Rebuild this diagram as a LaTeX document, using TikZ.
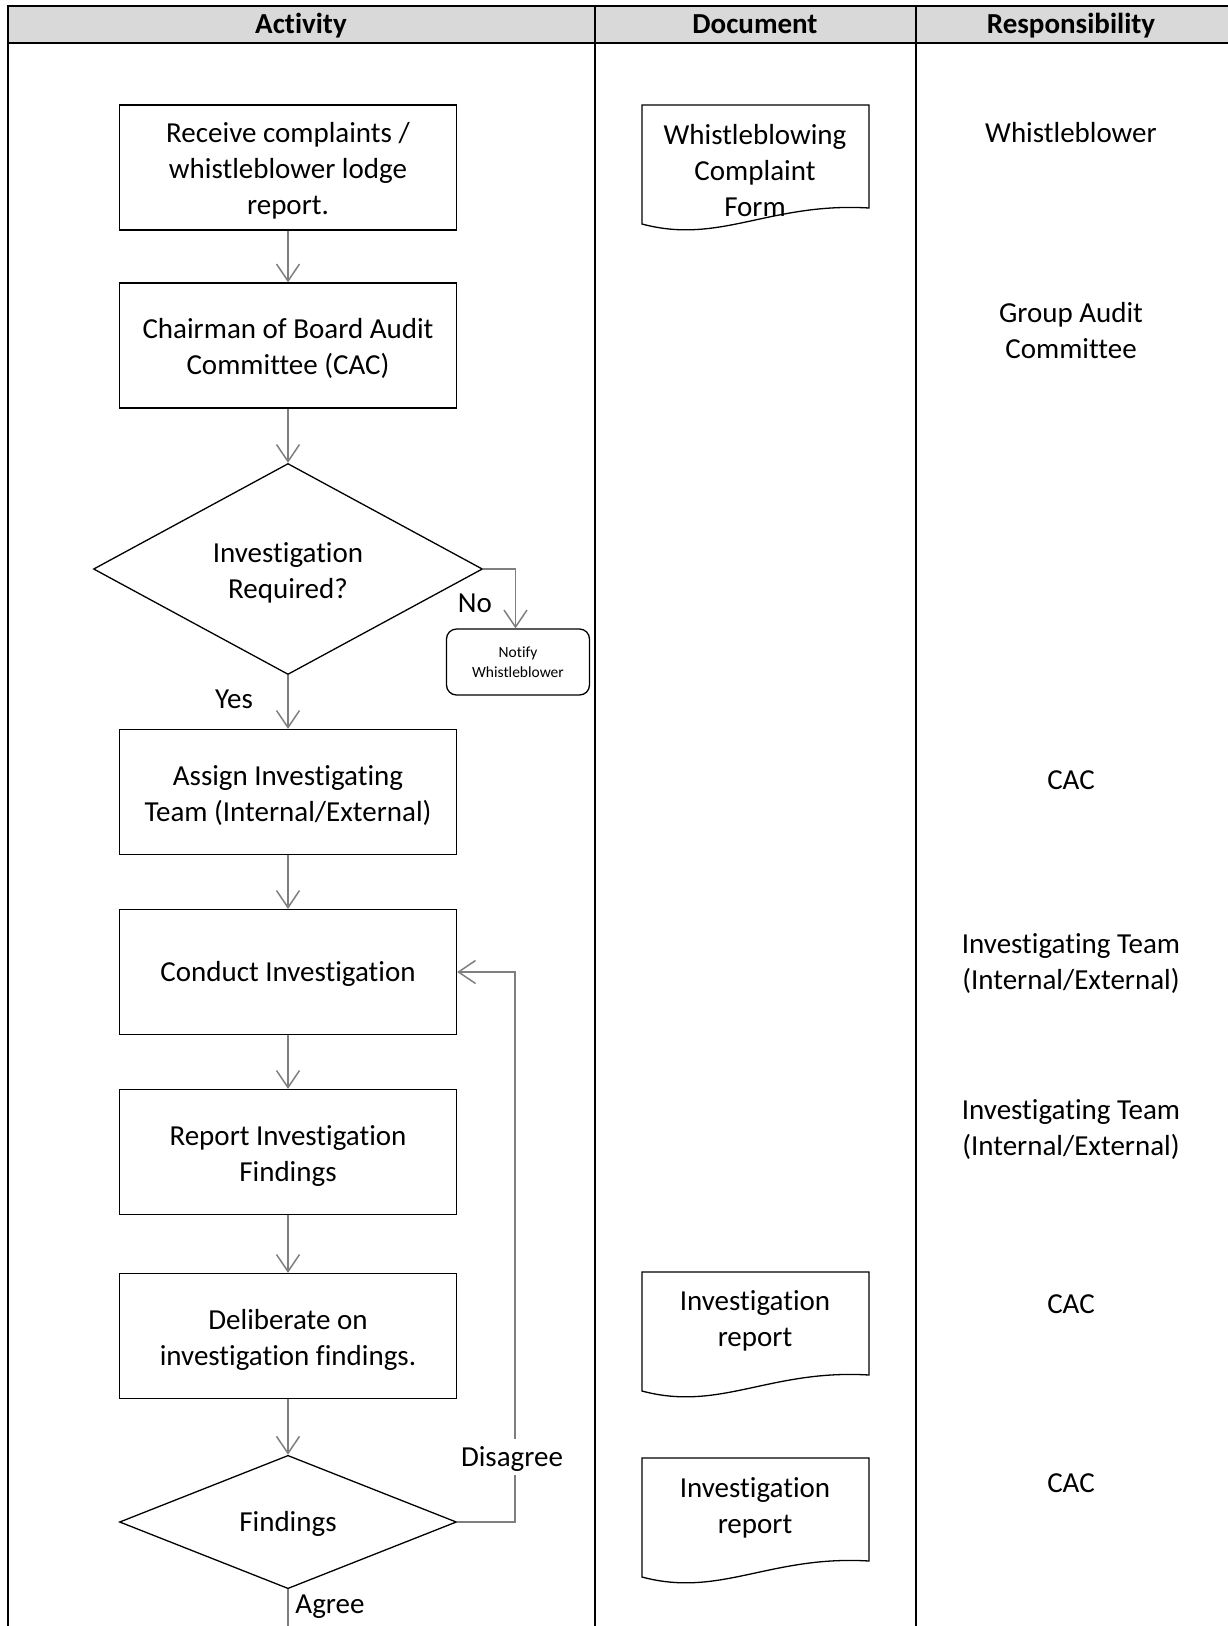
\documentclass[tikz,border=0pt]{standalone}
\usepackage{fontspec}
\setmainfont{Carlito}[Ligatures=NoCommon]
\usetikzlibrary{arrows.meta,shapes.geometric}
\definecolor{headgray}{HTML}{D9D9D9}
\definecolor{arrowgray}{HTML}{7F7F7F}
\newcommand\sv{\rule[-8.5pt]{0pt}{36pt}}
\newcommand\mydoc[1]{%
  \draw[boxline] (642,#1+119) -- (642,#1) -- (869,#1) -- (869,#1+103)
    .. controls (770,#1+97) and (720,#1+140) .. (642,#1+119) -- cycle;}
\begin{document}
\begin{tikzpicture}[x=1pt,y=-1pt,
  font=\fontsize{29}{36}\selectfont,
  boxline/.style={draw=black,line width=1.3pt},
  struts/.style={execute at begin node=\sv,execute at end node=\sv},
  proc/.style={boxline,struts,minimum width=337pt,minimum height=125pt,align=center,inner sep=0pt},
  dec/.style={boxline,struts,diamond,inner sep=0pt,align=center},
  txt/.style={struts,align=center,inner sep=0pt},
  conn/.style={draw=arrowgray,line width=1.5pt},
  arr/.style={conn,-{Straight Barb[length=17pt,width=23pt,line width=1.5pt]}},
  tbl/.style={draw=black,line width=2pt},
  lbl/.style={struts,inner sep=0pt,fill=white}
]
\useasboundingbox (0,0) rectangle (1227,1626);
% table
\fill[headgray] (8,6) rectangle (1230,42.5);
\draw[tbl] (8,1640) -- (8,6) -- (1230,6);
\draw[tbl] (8,42.5) -- (1230,42.5);
\draw[tbl] (595,6) -- (595,1640);
\draw[tbl] (916,6) -- (916,1640);
\node[txt,font=\fontsize{29}{36}\selectfont\bfseries] (h1) at (301,24) {Activity};
\node[txt,font=\fontsize{29}{36}\selectfont\bfseries] (h2) at (755,24) {Document};
\node[txt,font=\fontsize{29}{36}\selectfont\bfseries] (h3) at (1071,24) {Responsibility};
% activity column
\node[proc] (b1) at (288,167.5) {};
\node[txt] (b1t) at (288,173) {Receive complaints /\\whistleblower lodge\\report.};
\node[proc] (b2) at (288,345.5) {};
\node[txt] (b2t) at (288,351) {Chairman of Board Audit\\Committee (CAC)};
\node[dec,minimum width=389pt,minimum height=211pt] (d1) at (288,569) {};
\node[txt] (d1t) at (288,575) {Investigation\\Required?};
\node[boxline,rounded corners=10pt,minimum width=143pt,minimum height=66pt,align=center,inner sep=0pt,
      font=\fontsize{15.5}{19.5}\selectfont] (notify) at (518,662) {Notify\\Whistleblower};
\node[proc] (b3) at (288,792) {};
\node[txt] (b3t) at (288,797.5) {Assign Investigating\\Team (Internal/External)};
\node[proc] (b4) at (288,972) {Conduct Investigation};
\node[proc] (b5) at (288,1152) {};
\node[txt] (b5t) at (288,1157.5) {Report Investigation\\Findings};
\node[proc] (b6) at (288,1336) {};
\node[txt] (b6t) at (288,1341.5) {Deliberate on\\investigation findings.};
\node[dec,minimum width=337pt,minimum height=129pt] (d2) at (288,1522) {Findings};
\coordinate (loop) at (515,0);
\coordinate (bot) at (288,1640);
% connectors
\draw[arr] (b1) -- (b2);
\draw[arr] (b2) -- (d1);
\draw[arr] (d1.east) -| ([xshift=-2.5pt]notify.north);
\draw[arr] (d1) -- (b3);
\draw[arr] (b3) -- (b4);
\draw[arr] (b4) -- (b5);
\draw[arr] (b5) -- (b6);
\draw[arr] (b6) -- (d2);
\draw[arr] (d2.east) -- (d2.east -| loop) -- (b4.east -| loop) -- (b4.east);
\draw[conn] (d2.south) -- (bot);
\node[txt] (no) at (475,603) {No};
\node[txt] (yes) at (234,699) {Yes};
\node[lbl] (disagree) at (512,1457) {Disagree};
\node[txt] (agree) at (330,1604) {Agree};
% documents
\mydoc{105}
\mydoc{1272}
\mydoc{1458}
\node[txt] (doc1) at (755,174.5) {Whistleblowing\\Complaint\\Form};
\node[txt] (doc2) at (755,1322.5) {Investigation\\report};
\node[txt] (doc3) at (755,1509.5) {Investigation\\report};
% responsibility
\node[txt] (r1) at (1071,133) {Whistleblower};
\node[txt] (r2) at (1071,334.5) {Group Audit\\Committee};
\node[txt] (r3) at (1071,780) {CAC};
\node[txt] (r4) at (1071,965.5) {Investigating Team\\(Internal/External)};
\node[txt] (r5) at (1071,1132) {Investigating Team\\(Internal/External)};
\node[txt] (r6) at (1071,1304) {CAC};
\node[txt] (r7) at (1071,1483) {CAC};
\end{tikzpicture}
\end{document}
